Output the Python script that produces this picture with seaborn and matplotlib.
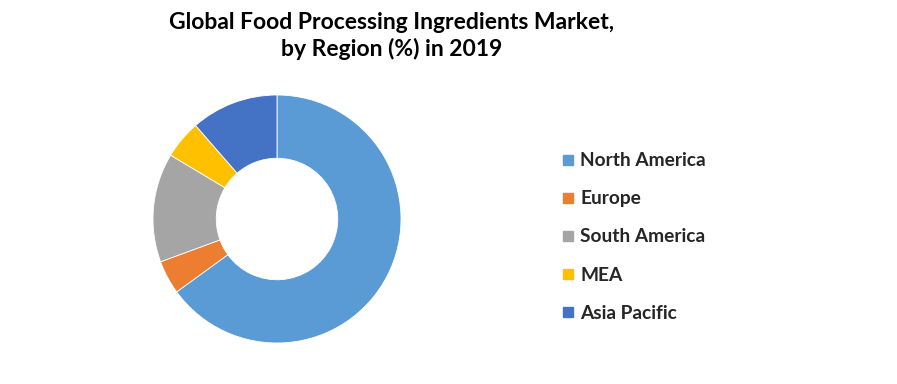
import matplotlib
matplotlib.use("Agg")
import matplotlib.pyplot as plt
from matplotlib.lines import Line2D
import seaborn as sns

regions = ["North America", "Europe", "South America", "MEA", "Asia Pacific"]
shares = [65.0, 4.4, 14.2, 5.0, 11.4]
colors = ["#5B9BD5", "#ED7D31", "#A5A5A5", "#FFC000", "#4472C4"]

sns.set_theme(style="white")
plt.rcParams["font.family"] = ["Lato", "DejaVu Sans"]

fig = plt.figure(figsize=(8.97, 3.84), dpi=100)
fig.patch.set_facecolor("white")

# donut centred at (277, 219) px, radius 124 px
cx, cy, r = 277 / 897, 1 - 219 / 384, 124
w, h = 2 * r / 897, 2 * r / 384
ax = fig.add_axes([cx - w / 2, cy - h / 2, w, h])
ax.pie(shares, colors=sns.color_palette(colors), startangle=90, counterclock=False,
       radius=1, wedgeprops=dict(width=0.51, edgecolor="white", linewidth=0.6))
ax.set_xlim(-1, 1); ax.set_ylim(-1, 1)
ax.set_aspect("equal")
ax.axis("off")

fig.text(392 / 897, 1 - 36 / 384,
         "Global Food Processing Ingredients Market,\nby Region (%) in 2019",
         ha="center", va="center", fontsize=16.5, fontweight="bold",
         linespacing=1.3, color="black")

handles = [Line2D([], [], marker="s", linestyle="", markersize=7.5,
                  markerfacecolor=c, markeredgecolor=c) for c in colors]
leg = fig.legend(handles, regions, loc="center left",
                 bbox_to_anchor=(562 / 897, 1 - 237 / 384), frameon=False,
                 prop=dict(family=["Lato", "DejaVu Sans"], weight="bold", size=13.8),
                 labelspacing=1.1, handlelength=0.6, handletextpad=0.35,
                 borderpad=0, borderaxespad=0)

fig.savefig("out.png", dpi=100, facecolor="white")
